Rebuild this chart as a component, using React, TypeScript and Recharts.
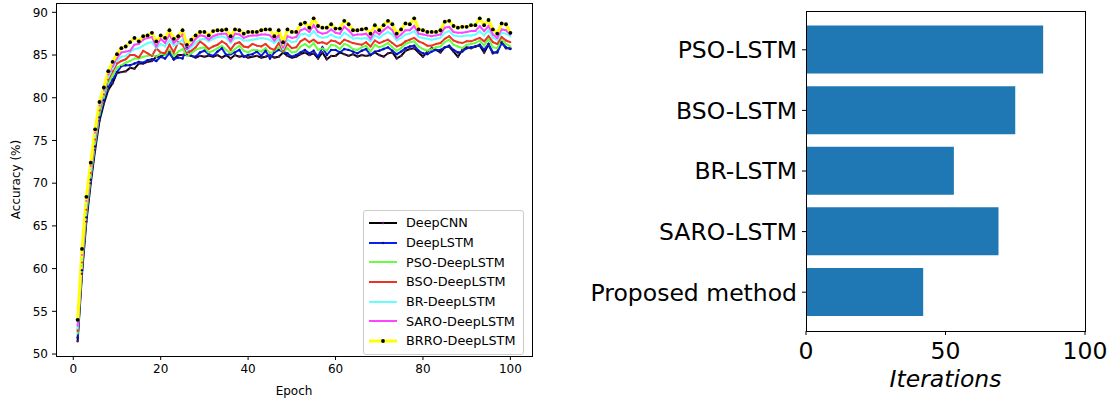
import React from 'react';
import {
  LineChart,
  Line,
  BarChart,
  Bar,
  XAxis,
  YAxis,
  Legend,
} from 'recharts';

const epochs = Array.from({ length: 100 }, (_, i) => i + 1);

const deepCnn = [
  51.5, 59.4, 65.5, 70.0, 73.9, 77.3, 79.3, 80.9, 81.7, 82.9,
  83.0, 83.1, 83.5, 83.4, 84.0, 84.0, 84.2, 84.3, 84.8, 84.8,
  85.1, 85.4, 84.5, 85.0, 85.0, 85.0, 84.9, 84.7, 84.9, 84.8,
  84.9, 84.8, 85.0, 84.7, 85.0, 84.6, 85.0, 84.8, 84.9, 84.7,
  84.8, 84.9, 84.7, 84.8, 85.0, 84.7, 84.8, 85.3, 84.9, 84.7,
  84.8, 85.1, 85.3, 85.0, 85.2, 84.6, 85.3, 84.5, 84.9, 84.9,
  85.3, 85.1, 84.9, 85.1, 84.8, 85.0, 84.9, 85.0, 85.3, 85.0,
  84.8, 85.2, 85.3, 84.6, 84.9, 85.5, 85.7, 85.8, 85.3, 84.8,
  85.4, 85.8, 85.6, 85.3, 85.9, 86.0, 85.4, 84.8, 85.6, 85.9,
  85.8, 86.0, 86.1, 85.3, 86.2, 85.2, 85.4, 86.5, 85.8, 85.8,
];

const deepLstm = [
  51.9, 59.8, 66.0, 70.4, 74.3, 77.7, 79.7, 81.3, 82.1, 83.0,
  83.7, 83.8, 83.8, 84.0, 84.2, 84.1, 84.4, 84.5, 84.3, 84.8,
  84.6, 85.2, 84.5, 84.7, 84.6, 85.8, 84.9, 84.8, 85.3, 85.5,
  85.1, 84.9, 85.4, 85.8, 85.0, 85.1, 85.3, 85.6, 84.8, 85.0,
  85.1, 85.4, 84.9, 85.5, 84.6, 85.3, 85.6, 85.4, 85.2, 84.8,
  85.0, 85.3, 85.6, 85.2, 85.5, 84.8, 85.9, 85.0, 85.6, 85.6,
  85.3, 85.7, 85.6, 85.4, 85.2, 85.5, 85.7, 85.0, 85.4, 85.5,
  85.7, 85.9, 85.5, 85.1, 85.4, 85.8, 86.0, 86.1, 85.5, 85.2,
  85.1, 85.4, 85.6, 85.6, 85.9, 86.1, 85.6, 85.3, 85.4, 85.8,
  85.9, 86.0, 86.2, 85.6, 86.3, 85.3, 85.3, 86.4, 85.9, 85.7,
];

const psoDeepLstm = [
  52.4, 60.3, 66.5, 70.8, 74.7, 78.1, 80.1, 81.7, 82.6, 83.5,
  83.8, 84.1, 84.3, 84.6, 84.6, 84.8, 84.9, 85.0, 84.8, 85.2,
  85.0, 85.6, 84.9, 85.4, 85.7, 84.9, 85.2, 85.6, 85.8, 85.9,
  85.3, 85.5, 85.8, 86.1, 85.6, 85.2, 85.7, 86.1, 85.5, 85.3,
  85.6, 85.6, 85.4, 85.8, 85.2, 85.5, 85.9, 85.4, 85.8, 85.3,
  85.4, 86.0, 86.3, 85.9, 86.4, 85.6, 85.8, 85.5, 86.2, 86.1,
  85.7, 86.3, 86.1, 85.7, 85.6, 85.9, 86.1, 85.4, 86.2, 85.9,
  86.1, 86.4, 85.9, 85.5, 85.8, 86.3, 86.5, 86.6, 86.0, 85.7,
  85.5, 85.7, 85.9, 86.0, 86.5, 86.8, 86.2, 86.0, 85.8, 86.2,
  86.3, 86.4, 86.7, 86.1, 86.9, 85.9, 85.8, 86.8, 86.3, 86.0,
];

const bsoDeepLstm = [
  52.7, 60.7, 66.9, 71.2, 75.1, 78.5, 80.4, 82.1, 83.1, 84.0,
  84.3, 84.5, 85.0, 85.0, 84.7, 85.5, 85.2, 84.9, 85.8, 85.3,
  85.2, 86.2, 85.3, 86.5, 86.2, 85.3, 85.5, 85.9, 86.6, 86.2,
  85.7, 86.0, 86.2, 86.6, 86.3, 85.6, 86.3, 86.5, 86.0, 85.9,
  86.3, 86.1, 86.0, 86.3, 85.8, 85.6, 86.4, 85.5, 86.3, 85.8,
  85.9, 86.6, 86.9, 86.5, 86.8, 86.4, 86.5, 86.3, 86.7, 86.6,
  86.3, 86.8, 86.6, 86.4, 86.3, 86.2, 86.5, 86.0, 86.7, 86.4,
  86.6, 86.8, 86.4, 86.0, 86.2, 86.6, 86.8, 87.0, 86.6, 86.4,
  86.1, 86.1, 86.3, 86.4, 86.9, 87.2, 86.7, 86.5, 86.4, 86.6,
  86.6, 86.8, 87.0, 86.6, 87.2, 86.5, 86.3, 87.1, 86.7, 86.5,
];

const brDeepLstm = [
  53.0, 61.1, 67.4, 71.6, 75.5, 78.8, 80.6, 82.4, 83.4, 84.3,
  84.8, 84.9, 85.3, 85.7, 85.8, 86.1, 86.4, 86.5, 85.8, 86.3,
  86.0, 86.7, 86.1, 86.4, 86.8, 85.5, 85.9, 86.4, 86.8, 86.9,
  86.6, 86.9, 87.1, 87.2, 87.0, 86.4, 87.0, 87.0, 86.7, 86.7,
  86.8, 86.9, 87.0, 86.9, 86.8, 86.4, 86.9, 85.7, 86.8, 86.5,
  86.6, 87.4, 87.5, 87.2, 87.8, 87.2, 87.0, 87.1, 87.4, 87.1,
  87.0, 87.6, 87.3, 86.9, 87.0, 86.9, 87.0, 86.6, 87.3, 87.0,
  87.4, 87.7, 87.4, 86.7, 87.0, 87.4, 87.5, 87.8, 87.1, 87.0,
  86.9, 86.8, 86.9, 87.0, 87.6, 87.8, 87.3, 87.2, 87.2, 87.3,
  87.3, 87.4, 87.8, 87.3, 87.9, 87.0, 86.8, 87.6, 87.5, 87.2,
];

const saroDeepLstm = [
  53.3, 61.6, 67.9, 72.0, 75.9, 79.1, 80.9, 82.7, 83.7, 84.6,
  85.3, 85.4, 85.5, 86.2, 86.3, 86.8, 87.0, 87.1, 86.0, 86.9,
  86.4, 87.4, 86.4, 86.9, 87.4, 85.7, 86.2, 86.9, 87.3, 87.2,
  86.8, 87.2, 87.4, 87.5, 87.5, 86.6, 87.5, 87.4, 87.0, 87.2,
  87.3, 87.3, 87.4, 87.4, 87.3, 86.7, 87.3, 85.9, 87.2, 87.0,
  87.1, 87.9, 88.1, 87.7, 88.5, 87.7, 87.5, 87.6, 88.0, 87.6,
  87.5, 88.3, 87.9, 87.3, 87.4, 87.4, 87.5, 86.9, 87.8, 87.4,
  87.9, 88.3, 87.9, 87.0, 87.4, 87.9, 87.9, 88.4, 87.5, 87.4,
  87.3, 87.2, 87.3, 87.4, 88.2, 88.3, 87.7, 87.6, 87.6, 87.7,
  87.8, 87.8, 88.4, 87.8, 88.4, 87.4, 87.0, 88.0, 87.9, 87.4,
];

const brroDeepLstm = [
  54.0, 62.3, 68.4, 72.4, 76.3, 79.5, 81.2, 83.1, 84.2, 85.1,
  85.8, 86.0, 86.5, 87.0, 86.6, 87.2, 87.3, 87.6, 86.6, 87.3,
  87.0, 87.9, 86.9, 87.2, 87.9, 86.2, 86.8, 87.3, 87.7, 87.7,
  87.3, 87.8, 87.9, 87.9, 88.0, 87.2, 88.0, 87.9, 87.5, 87.7,
  87.7, 87.7, 87.9, 88.0, 88.0, 87.2, 87.9, 86.5, 88.0, 87.7,
  87.7, 88.6, 88.8, 88.2, 89.3, 88.4, 88.2, 88.2, 88.6, 88.1,
  88.1, 89.0, 88.6, 87.9, 87.9, 88.0, 88.1, 87.5, 88.5, 87.9,
  88.5, 89.0, 88.6, 87.5, 88.0, 88.7, 88.6, 89.3, 88.0, 87.9,
  87.7, 87.7, 87.7, 87.9, 88.9, 89.0, 88.4, 88.2, 88.3, 88.3,
  88.5, 88.5, 89.3, 88.5, 89.1, 88.0, 87.5, 88.7, 88.6, 87.6,
];

const xTicks = [0, 20, 40, 60, 80, 100];
const yTicks = [50, 55, 60, 65, 70, 75, 80, 85, 90];

const methods = ['PSO-LSTM', 'BSO-LSTM', 'BR-LSTM', 'SARO-LSTM', 'Proposed method'];
const iterations = [85, 75, 53, 69, 42];
const iterTicks = [0, 50, 100];

const series = [
  { key: 'DeepCNN', values: deepCnn, color: '#000000', dot: '#5c1a5c', r: 1.2, w: 2 },
  { key: 'DeepLSTM', values: deepLstm, color: '#0a1ff5', dot: '#0010a0', r: 1.2, w: 2 },
  { key: 'PSO-DeepLSTM', values: psoDeepLstm, color: '#66ff40', dot: '#66ff40', r: 1, w: 2 },
  { key: 'BSO-DeepLSTM', values: bsoDeepLstm, color: '#ee3322', dot: '#ee3322', r: 1, w: 2 },
  { key: 'BR-DeepLSTM', values: brDeepLstm, color: '#66ffff', dot: '#66ffff', r: 1, w: 2 },
  { key: 'SARO-DeepLSTM', values: saroDeepLstm, color: '#ff44ff', dot: '#ff44ff', r: 1, w: 2 },
  { key: 'BRRO-DeepLSTM', values: brroDeepLstm, color: '#ffff00', dot: '#000000', r: 1.9, w: 3 },
];

const accData = epochs.map((e, i) => {
  const row: Record<string, number> = { epoch: e };
  series.forEach((s) => {
    row[s.key] = s.values[i];
  });
  return row;
});

const barData = methods.map((m, i) => ({ name: m, value: iterations[i] }));

const font = '"DejaVu Sans", sans-serif';

const LegendBox = () => (
  <div
    style={{
      border: '1px solid #cccccc',
      borderRadius: 3,
      background: 'rgba(255,255,255,0.85)',
      padding: '2px 8px 3px 4px',
      fontFamily: font,
      fontSize: 12.8,
      color: '#000',
    }}
  >
    {series.map((s) => (
      <div key={s.key} style={{ display: 'flex', alignItems: 'center', height: 19.7 }}>
        <svg width={38} height={10} style={{ flex: 'none' }}>
          <line x1={1} y1={5} x2={29} y2={5} stroke={s.color} strokeWidth={s.w} />
          <circle cx={15} cy={5} r={s.r} fill={s.dot} />
        </svg>
        <span style={{ whiteSpace: 'nowrap' }}>{s.key}</span>
      </div>
    ))}
  </div>
);

export default function App() {
  return (
    <div
      style={{
        position: 'absolute',
        left: 0,
        top: 0,
        width: 1110,
        height: 401,
        background: '#fff',
        fontFamily: font,
      }}
    >
      <div style={{ position: 'absolute', left: 0, top: 0 }}>
        <LineChart
          width={540}
          height={401}
          data={accData}
          margin={{ top: 3, right: 8, bottom: 0, left: 0 }}
        >
          <XAxis
            dataKey="epoch"
            type="number"
            domain={[-3.95, 104.95]}
            allowDataOverflow
            ticks={xTicks}
            height={45}
            tickSize={4}
            tickMargin={4}
            axisLine={false}
            tickLine={{ stroke: '#000' }}
            tick={{ fill: '#000', fontSize: 12, fontFamily: font }}
            label={{ value: 'Epoch', position: 'insideBottom', offset: 6, fill: '#000', fontSize: 12, fontFamily: font }}
          />
          <YAxis
            type="number"
            domain={[49.77, 91.09]}
            allowDataOverflow
            ticks={yTicks}
            width={56}
            tickSize={4}
            tickMargin={4}
            axisLine={false}
            tickLine={{ stroke: '#000' }}
            tick={{ fill: '#000', fontSize: 12, fontFamily: font }}
            label={{ value: 'Accuracy (%)', angle: -90, position: 'insideLeft', offset: 16, fill: '#000', fontSize: 12, fontFamily: font, style: { textAnchor: 'middle' } }}
          />
          {series.map((s) => (
            <Line
              key={s.key}
              dataKey={s.key}
              stroke={s.color}
              strokeWidth={s.w}
              dot={{ r: s.r, fill: s.dot, stroke: 'none' }}
              isAnimationActive={false}
              type="linear"
            />
          ))}
          <Legend
            layout="vertical"
            align="center"
            verticalAlign="middle"
            content={() => <LegendBox />}
            wrapperStyle={{ position: 'absolute', left: 363, top: 210, width: 'auto' }}
          />
        </LineChart>
        <div
          style={{
            position: 'absolute',
            left: 56,
            top: 3,
            width: 477,
            height: 354,
            border: '1px solid #000',
            boxSizing: 'border-box',
            pointerEvents: 'none',
          }}
        />
      </div>

      <div style={{ position: 'absolute', left: 540, top: 0 }}>
        <BarChart
          width={570}
          height={401}
          data={barData}
          layout="vertical"
          barCategoryGap="10%"
          margin={{ top: 11, right: 25, bottom: 0, left: 0 }}
        >
          <XAxis
            type="number"
            domain={[0, 100]}
            ticks={iterTicks}
            height={70}
            tickSize={4}
            tickMargin={7}
            axisLine={false}
            tickLine={{ stroke: '#000' }}
            tick={{ fill: '#000', fontSize: 23.5, fontFamily: font }}
            label={{ value: 'Iterations', position: 'insideBottom', offset: 14, fill: '#000', fontSize: 23.5, fontFamily: font, fontStyle: 'italic' }}
          />
          <YAxis
            type="category"
            dataKey="name"
            width={266}
            padding={{ top: 8.5, bottom: 8.5 }}
            tickSize={4}
            tickMargin={5}
            axisLine={false}
            tickLine={{ stroke: '#000' }}
            tick={{ fill: '#000', fontSize: 23.5, fontFamily: font }}
          />
          <Bar dataKey="value" fill="#1f77b4" isAnimationActive={false} />
        </BarChart>
        <div
          style={{
            position: 'absolute',
            left: 266,
            top: 11,
            width: 280,
            height: 321,
            border: '1px solid #000',
            boxSizing: 'border-box',
            pointerEvents: 'none',
          }}
        />
      </div>
    </div>
  );
}
